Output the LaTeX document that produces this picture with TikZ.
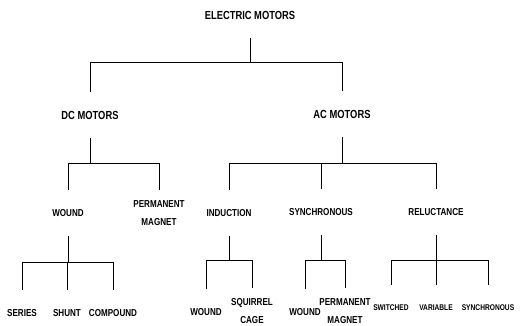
\documentclass[tikz,border=0pt]{standalone}
\usepackage{fontspec}
\setmainfont[FakeStretch=0.8]{Liberation Sans}
\usetikzlibrary{positioning}

\begin{document}
\begin{tikzpicture}[
x=1pt, y=-1pt,
font=\bfseries,
motor/.style={inner sep=0pt, minimum height=46pt, align=center},
big/.style={motor, font=\bfseries\fontsize{11.7}{13}\selectfont},
mid/.style={motor, font=\bfseries\fontsize{10.1}{18.5}\selectfont},
tiny/.style={motor, font=\bfseries\fontsize{8.3}{10}\selectfont},
link/.style={draw, line width=0.8pt}
]
\useasboundingbox (0,0) rectangle (525,326);

% --- Niveau 1 et 2 ---
\node[big] (electric) at (250,15) {ELECTRIC MOTORS};
\node[big] (dc) at (90,115) {DC MOTORS};
\node[big] (ac) at (342,114) {AC MOTORS};

% --- Moteurs DC ---
\node[mid] (wound) at (68,213) {WOUND};
\node[mid] (permanent) at (159,213) {PERMANENT\\MAGNET};
\node[mid] (series) at (22,313) {SERIES};
\node[mid] (shunt) at (67,313) {SHUNT};
\node[mid] (compound) at (113,313) {COMPOUND};

% --- Moteurs AC ---
\node[mid] (induction) at (229,213) {INDUCTION};
\node[mid] (synchronous) at (321,212) {SYNCHRONOUS};
\node[mid] (reluctance) at (436,212) {RELUCTANCE};
\node[mid] (indwound) at (206,312) {WOUND};
\node[mid] (squirrel) at (252,311) {SQUIRREL\\CAGE};
\node[mid] (synwound) at (305,312) {WOUND};
\node[mid] (synmagnet) at (345,311) {PERMANENT\\MAGNET};
\node[tiny] (switched) at (391,308) {SWITCHED};
\node[tiny] (variable) at (436,308) {VARIABLE};
\node[tiny] (relsync) at (488,308) {SYNCHRONOUS};

% --- Liaisons ---
\draw[link] (electric.south) -- ++(0,24) coordinate (electricbus);
\draw[link] (dc.north) |- (electricbus) -| (ac.north);

\draw[link] (dc.south) -- ++(0,25) coordinate (dcbus);
\draw[link] (wound.north) |- (dcbus) -| (permanent.north);

\draw[link] (ac.south) -- ++(0,26) coordinate (acbus);
\draw[link] (induction.north) |- (acbus) -| (reluctance.north);
\draw[link] (synchronous.north) -- (synchronous.north |- acbus);

\draw[link] (wound.south) -- ++(0,26) coordinate (woundbus);
\draw[link] (series.north) |- (woundbus) -| (compound.north);
\draw[link] (shunt.north) -- (shunt.north |- woundbus);

\draw[link] (induction.south) -- ++(0,24) coordinate (inductionbus);
\draw[link] (indwound.north) |- (inductionbus) -| (squirrel.north);

\draw[link] (synchronous.south) -- ++(0,25) coordinate (synchronousbus);
\draw[link] (synwound.north) |- (synchronousbus) -| (synmagnet.north);

\draw[link] (reluctance.south) -- ++(0,25) coordinate (reluctancebus);
\draw[link] (switched.north) |- (reluctancebus) -| (relsync.north);
\draw[link] (variable.north) -- (variable.north |- reluctancebus);

\end{tikzpicture}
\end{document}
